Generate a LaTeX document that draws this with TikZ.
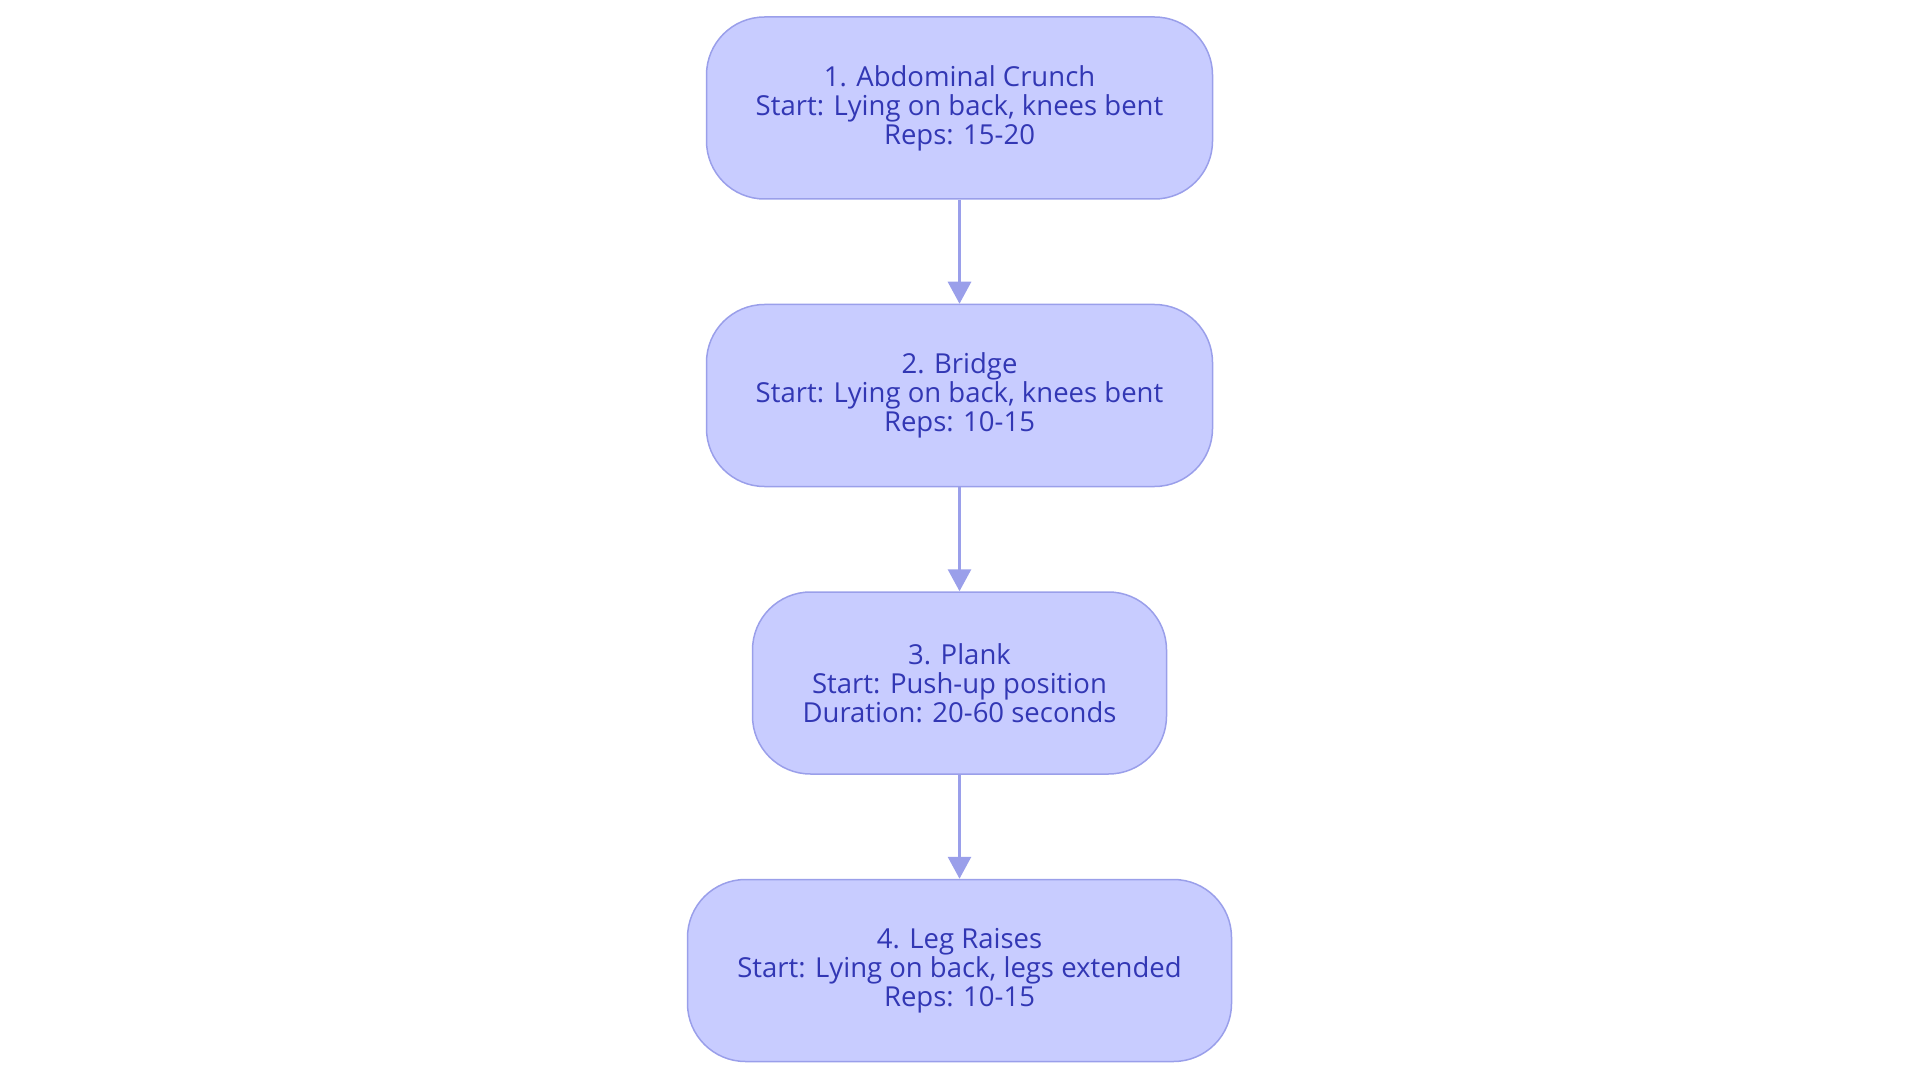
\documentclass[tikz,border=0pt]{standalone}
\usepackage{fontspec}
\setmainfont{Open Sans}
\usetikzlibrary{positioning, arrows.meta}
\definecolor{stepfill}{HTML}{C8CCFF}
\definecolor{stepline}{HTML}{9A9FEA}
\definecolor{steptext}{HTML}{3237B4}
\tikzset{exercise/.style={draw=stepline, fill=stepfill, line width=1.5pt,
    rounded corners=58pt, minimum height=182pt, align=center,
    text=steptext, font=\fontsize{27.5}{29}\selectfont},
  flow/.style={draw=stepline, line width=3pt,
    -{Triangle[length=22pt,width=23pt]}}}

\begin{document}
\begin{tikzpicture}[x=1pt, y=1pt]
  \useasboundingbox (0,0) rectangle (1920,-1083);
  \node[exercise, minimum width=506pt] (crunch) at (959.5,-108) {1. Abdominal Crunch\\Start: Lying on back, knees bent\\Reps: 15-20};
  \node[exercise, minimum width=506pt, below=104pt of crunch] (bridge) {2. Bridge\\Start: Lying on back, knees bent\\Reps: 10-15};
  \node[exercise, minimum width=414pt, below=104pt of bridge] (plank) {3. Plank\\Start: Push-up position\\Duration: 20-60 seconds};
  \node[exercise, minimum width=544pt, below=104pt of plank] (legs) {4. Leg Raises\\Start: Lying on back, legs extended\\Reps: 10-15};
  \foreach \a/\b in {crunch/bridge, bridge/plank, plank/legs} {
    \draw[flow] (\a) -- (\b);
  }
\end{tikzpicture}
\end{document}
